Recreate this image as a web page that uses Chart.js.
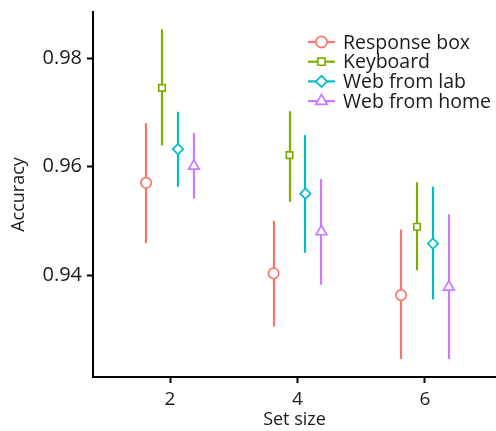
<!DOCTYPE html>
<html>
<head>
<meta charset="utf-8">
<script src="https://cdn.jsdelivr.net/npm/chart.js@4.4.0/dist/chart.umd.min.js"></script>
<style>
  html, body { margin: 0; padding: 0; background: #fff; }
  #wrap { position: relative; width: 496px; height: 431px; }
</style>
</head>
<body>
<div id="wrap"><canvas id="chart"></canvas></div>
<script>
// 集合サイズ別の正答率（平均と誤差範囲）
const setSizes = [2, 4, 6];
const seriesNames = ['Response box', 'Keyboard', 'Web from lab', 'Web from home'];
const yTicks = [0.94, 0.96, 0.98];

const responseBoxMean = [0.9570, 0.9403, 0.9363];
const responseBoxLow  = [0.9459, 0.9305, 0.9245];
const responseBoxHigh = [0.9680, 0.9500, 0.9484];

const keyboardMean = [0.9745, 0.9621, 0.9489];
const keyboardLow  = [0.9639, 0.9535, 0.9409];
const keyboardHigh = [0.9853, 0.9702, 0.9571];

const webLabMean = [0.9632, 0.9550, 0.9458];
const webLabLow  = [0.9563, 0.9441, 0.9355];
const webLabHigh = [0.9701, 0.9658, 0.9563];

const webHomeMean = [0.9601, 0.9480, 0.9378];
const webHomeLow  = [0.9541, 0.9382, 0.9245];
const webHomeHigh = [0.9662, 0.9577, 0.9512];

// 見た目の設定
const colors = ['#F8766D', '#7CAE00', '#00BFC4', '#C77CFF'];
const pointStyles = ['circle', 'rect', 'rectRot', 'triangle'];
const pointRadii = [5.2, 4.6, 5.2, 6.2];
const dodge = [-0.375, -0.125, 0.125, 0.375];
const FONT = "'Open Sans', 'Noto Sans', sans-serif";
const TEXT = '#1a1a1a';

const means = [responseBoxMean, keyboardMean, webLabMean, webHomeMean];
const lows = [responseBoxLow, keyboardLow, webLabLow, webHomeLow];
const highs = [responseBoxHigh, keyboardHigh, webLabHigh, webHomeHigh];

const datasets = seriesNames.map((name, i) => ({
  label: name,
  data: setSizes.map((s, j) => ({ x: s + dodge[i], y: means[i][j] })),
  low: lows[i],
  high: highs[i],
  borderColor: colors[i],
  backgroundColor: '#fff',
  pointStyle: pointStyles[i],
  pointRadius: pointRadii[i],
  pointBorderWidth: 1.7,
  showLine: false
}));

// 誤差棒（点の下に描く）
const errorBars = {
  id: 'errorBars',
  beforeDatasetsDraw(chart) {
    const { ctx, scales: { x, y } } = chart;
    ctx.save();
    ctx.lineWidth = 2.2;
    chart.data.datasets.forEach(ds => {
      ctx.strokeStyle = ds.borderColor;
      ds.data.forEach((p, j) => {
        const px = Math.round(x.getPixelForValue(p.x));
        ctx.beginPath();
        ctx.moveTo(px, y.getPixelForValue(ds.low[j]));
        ctx.lineTo(px, y.getPixelForValue(ds.high[j]));
        ctx.stroke();
      });
    });
    ctx.restore();
  }
};

// ggplot 風の凡例（線＋マーカー）
const lineLegend = {
  id: 'lineLegend',
  afterDraw(chart) {
    const ctx = chart.ctx;
    const x0 = 308, x1 = 335, tx = 343, top = 42, step = 19.7;
    ctx.save();
    ctx.font = '19.5px ' + FONT;
    ctx.textBaseline = 'middle';
    chart.data.datasets.forEach((ds, i) => {
      const yy = top + i * step;
      ctx.strokeStyle = ds.borderColor;
      ctx.lineWidth = 2.2;
      ctx.beginPath();
      ctx.moveTo(x0, yy);
      ctx.lineTo(x1, yy);
      ctx.stroke();
      ctx.fillStyle = '#fff';
      ctx.lineWidth = 1.7;
      Chart.helpers.drawPoint(ctx, { pointStyle: ds.pointStyle, radius: ds.pointRadius + 0.4, rotation: 0, borderWidth: 1.7 }, (x0 + x1) / 2, yy);
      ctx.fillStyle = TEXT;
      ctx.fillText(ds.label, tx, yy + 1);
    });
    ctx.restore();
  }
};

new Chart(document.getElementById('chart'), {
  type: 'scatter',
  data: { datasets },
  plugins: [errorBars, lineLegend],
  options: {
    responsive: true,
    maintainAspectRatio: false,
    animation: false,
    layout: { autoPadding: false, padding: { top: 12, right: 0, left: 0, bottom: 0 } },
    plugins: { legend: { display: false }, tooltip: { enabled: false } },
    scales: {
      x: {
        type: 'linear',
        min: 0.792,
        max: 7.114,
        afterBuildTicks: s => { s.ticks = setSizes.map(v => ({ value: v })); },
        afterFit: s => { s.height = 54; s.paddingLeft = 0; s.paddingRight = 0; },
        grid: { drawOnChartArea: false, tickLength: 6, tickColor: '#000', tickWidth: 2 },
        border: { display: true, color: '#000', width: 2 },
        ticks: { color: TEXT, font: { family: FONT, size: 19 }, padding: 5 },
        title: { display: true, text: 'Set size', color: TEXT, font: { family: FONT, size: 18 }, padding: { top: 0, bottom: 0 } }
      },
      y: {
        min: 0.9212,
        max: 0.9885,
        afterBuildTicks: s => { s.ticks = yTicks.map(v => ({ value: v })); },
        afterFit: s => { s.width = 93; s.paddingTop = 0; s.paddingBottom = 0; },
        grid: { drawOnChartArea: false, tickLength: 6, tickColor: '#000', tickWidth: 2 },
        border: { display: true, color: '#000', width: 2 },
        ticks: { color: TEXT, font: { family: FONT, size: 20 }, padding: 5, callback: v => v.toFixed(2) },
        title: { display: true, text: 'Accuracy', color: TEXT, font: { family: FONT, size: 18 }, padding: { top: 8, bottom: 0 } }
      }
    }
  }
});
</script>
</body>
</html>
